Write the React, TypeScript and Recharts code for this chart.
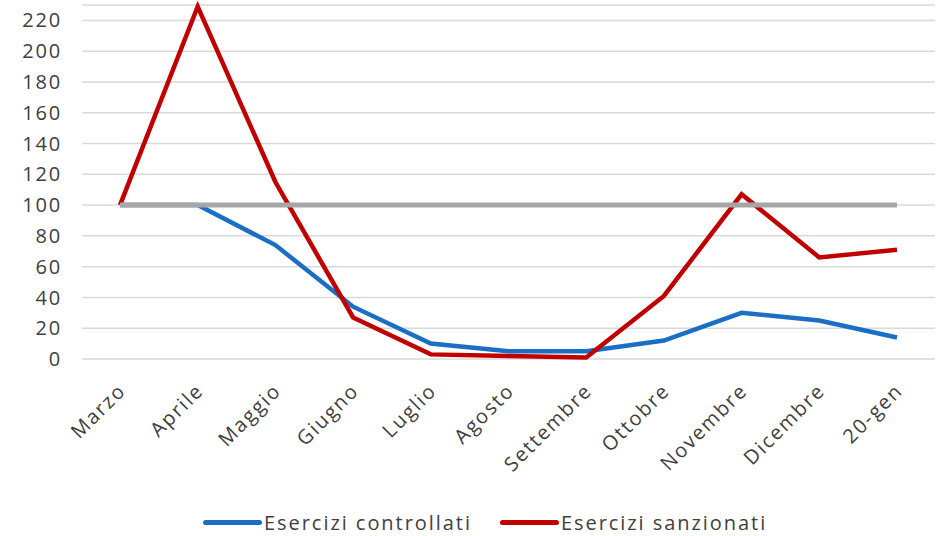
import React from "react";
import { LineChart, Line, XAxis, YAxis, CartesianGrid, Legend } from "recharts";

const mesi = [
  "Marzo",
  "Aprile",
  "Maggio",
  "Giugno",
  "Luglio",
  "Agosto",
  "Settembre",
  "Ottobre",
  "Novembre",
  "Dicembre",
  "20-gen",
];
const controllati = [100, 100, 74, 34, 10, 5, 5, 12, 30, 25, 14];
const sanzionati = [100, 229, 115, 27, 3, 2, 1, 41, 107, 66, 71];
const base = [100, 100, 100, 100, 100, 100, 100, 100, 100, 100, 100];
const yTicks = [0, 20, 40, 60, 80, 100, 120, 140, 160, 180, 200, 220];

const data = mesi.map((m, i) => ({
  mese: m,
  controllati: controllati[i],
  sanzionati: sanzionati[i],
  base: base[i],
}));

const FONT = "'Open Sans', sans-serif";
const TEXT = "#404040";
const BLUE = "#1A6EC4";
const RED = "#C00000";

function MeseTick({ x, y, payload }: any) {
  return (
    <g transform={`translate(${x + 7},${y + 25}) rotate(-45)`}>
      <text x={0} y={0} textAnchor="end" fill={TEXT} fontSize={20} letterSpacing={1.8} fontFamily={FONT}>
        {payload.value}
      </text>
    </g>
  );
}

function Legenda() {
  const items = [
    { label: "Esercizi controllati", color: BLUE },
    { label: "Esercizi sanzionati", color: RED },
  ];
  return (
    <div
      style={{
        display: "flex",
        alignItems: "center",
        height: 28,
        paddingLeft: 191,
        gap: 28,
        fontFamily: FONT,
        fontSize: 20,
        letterSpacing: 1.95,
        color: TEXT,
      }}
    >
      {items.map((it) => (
        <div key={it.label} style={{ display: "flex", alignItems: "center" }}>
          <span
            style={{
              display: "inline-block",
              width: 59,
              height: 5,
              borderRadius: 3,
              background: it.color,
              marginRight: 2,
            }}
          />
          <span>{it.label}</span>
        </div>
      ))}
    </div>
  );
}

export default function App() {
  return (
    <div style={{ position: "absolute", left: 0, top: 0, background: "#fff" }}>
      <LineChart
        width={939}
        height={536}
        data={data}
        margin={{ top: 5, right: 4, left: 12, bottom: 0 }}
      >
        <CartesianGrid vertical={false} stroke="#d9d9d9" strokeWidth={1.5} />
        <XAxis
          dataKey="mese"
          axisLine={false}
          tickLine={false}
          interval={0}
          height={149}
          padding={{ left: 38, right: 38 }}
          tick={<MeseTick />}
        />
        <YAxis
          width={70}
          domain={[0, 230]}
          ticks={yTicks}
          axisLine={false}
          tickLine={false}
          tickMargin={14}
          tick={{ fill: TEXT, fontSize: 20, letterSpacing: 1.8, fontFamily: FONT }}
        />
        <Legend verticalAlign="bottom" height={28} content={<Legenda />} />
        <Line
          dataKey="controllati"
          name="Esercizi controllati"
          stroke={BLUE}
          strokeWidth={4.5}
          dot={false}
          isAnimationActive={false}
        />
        <Line
          dataKey="sanzionati"
          name="Esercizi sanzionati"
          stroke={RED}
          strokeWidth={4.5}
          dot={false}
          isAnimationActive={false}
        />
        <Line
          dataKey="base"
          legendType="none"
          stroke="#A6A6A6"
          strokeWidth={5}
          dot={false}
          isAnimationActive={false}
        />
      </LineChart>
    </div>
  );
}
